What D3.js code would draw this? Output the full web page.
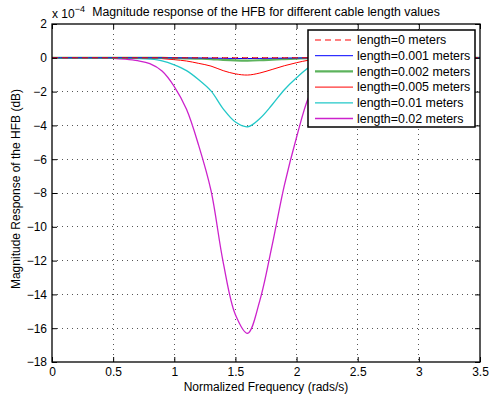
<!DOCTYPE html>
<html><head><meta charset="utf-8">
<script src="https://cdn.jsdelivr.net/npm/d3@7"></script>
<style>body{margin:0;background:#fff}svg{display:block}text{font-family:"Liberation Sans",Arial,sans-serif}</style>
</head><body><svg id="c" width="490" height="399"></svg>
<script>
const freq = [0,0.1,0.2,0.3,0.4,0.5,0.6,0.7,0.8,0.9,1.0,1.1,1.2,1.3,1.4,1.5,1.6,1.7,1.8,1.9,2.0,2.1,2.2,2.3,2.4,2.5,2.6,2.7,2.8,2.9,3.0,3.1,3.2,3.3,3.4,3.5];
const len0    = [0,0,0,0,0,0,0,0,0,0,0,0,0,0,0,0,0,0,0,0,0,0,0,0,0,0,0,0,0,0,0,0,0,0,0,0];
const len001  = [0,0,0,0,0,0,0,0,0,0,-0.004,-0.008,-0.013,-0.02,-0.03,-0.038,-0.041,-0.036,-0.028,-0.019,-0.012,-0.006,-0.003,-0.001,0,0,0,0,0,0,0,0,0,0,0,0];
const len002  = [0,0,0,0,0,0,0,0,-0.003,-0.007,-0.017,-0.03,-0.052,-0.078,-0.121,-0.152,-0.163,-0.144,-0.111,-0.076,-0.047,-0.022,-0.01,-0.005,-0.002,0,0,0,0,0,0,0,0,0,0,0];
const len005  = [0,0,0,0,0,0,-0.004,-0.01,-0.02,-0.05,-0.11,-0.19,-0.33,-0.49,-0.76,-0.95,-1.02,-0.9,-0.69,-0.47,-0.29,-0.14,-0.06,-0.03,-0.01,0,0,0,0,0,0,0,0,0,0,0];
const len01   = [0,0,0,0,0,-0.01,-0.02,-0.04,-0.08,-0.18,-0.42,-0.76,-1.3,-1.96,-3.02,-3.8,-4.08,-3.59,-2.78,-1.89,-1.18,-0.58,-0.27,-0.12,-0.05,-0.02,-0.01,0,0,0,0,0,0,0,0,0];
const len02   = [0,0,0,0,-0.01,-0.03,-0.08,-0.17,-0.34,-0.78,-1.7,-3.05,-5.2,-7.85,-12.1,-15.2,-16.3,-14.35,-11.1,-7.55,-4.7,-2.3,-1.05,-0.5,-0.22,-0.1,-0.04,-0.02,0,0,0,0,0,0,0,0];
const seriesNames = ["length=0 meters","length=0.001 meters","length=0.002 meters","length=0.005 meters","length=0.01 meters","length=0.02 meters"];
const xTicks = [0,0.5,1,1.5,2,2.5,3,3.5];
const yTicks = [2,0,-2,-4,-6,-8,-10,-12,-14,-16,-18];

const series = [
  {name:seriesNames[0], values:len0,   color:"#ff0000", width:1, dash:"6,4"},
  {name:seriesNames[1], values:len001, color:"#0000ff", width:1, dash:null},
  {name:seriesNames[2], values:len002, color:"#5db35d", width:2.2, dash:null},
  {name:seriesNames[3], values:len005, color:"#ff0000", width:1, dash:null},
  {name:seriesNames[4], values:len01,  color:"#22c8c8", width:1.3, dash:null},
  {name:seriesNames[5], values:len02,  color:"#cc22cc", width:1.3, dash:null}
];

const svg = d3.select("#c");
const L = 52, R = 480, T = 24, B = 362;
const x = d3.scaleLinear().domain([0,3.5]).range([L,R]);
const y = d3.scaleLinear().domain([-18,2]).range([B,T]);

// grid
const g = svg.append("g");
xTicks.slice(1,-1).forEach(t=>g.append("line").attr("x1",x(t)).attr("x2",x(t)).attr("y1",T).attr("y2",B)
  .attr("stroke","#555").attr("stroke-width",1).attr("stroke-dasharray","1,4").attr("shape-rendering","crispEdges"));
yTicks.slice(1,-1).forEach(t=>g.append("line").attr("y1",y(t)).attr("y2",y(t)).attr("x1",L).attr("x2",R)
  .attr("stroke","#555").attr("stroke-width",1).attr("stroke-dasharray","1,4").attr("shape-rendering","crispEdges"));

// curves
const line = d3.line().x((d,i)=>x(freq[i])).y(d=>y(d)).curve(d3.curveCatmullRom.alpha(0.5));
svg.append("clipPath").attr("id","pc").append("rect").attr("x",L).attr("y",T).attr("width",R-L).attr("height",B-T);
const cg = svg.append("g").attr("clip-path","url(#pc)");
[5,4,3,2,1,0].forEach(i=>{
  const s = series[i];
  cg.append("path").datum(s.values).attr("d",line).attr("fill","none")
    .attr("stroke",s.color).attr("stroke-width",s.width).attr("stroke-dasharray",s.dash);
});

// axes (ticks inward)
const xb = d3.axisBottom(x).tickValues(xTicks).tickSize(-5).tickPadding(5.5).tickFormat(d3.format(""));
const xt = d3.axisTop(x).tickValues(xTicks).tickSize(-5).tickFormat("");
const yl = d3.axisLeft(y).tickValues(yTicks).tickSize(-5).tickPadding(5).tickFormat(d=>d<0?"\u2212"+Math.abs(d):d);
const yr = d3.axisRight(y).tickValues(yTicks).tickSize(-5).tickFormat("");
[[xb,`translate(0,${B})`],[xt,`translate(0,${T})`],[yl,`translate(${L},0)`],[yr,`translate(${R},0)`]].forEach(([a,tr])=>{
  const gg = svg.append("g").attr("transform",tr).call(a);
  gg.select(".domain").remove();
  gg.selectAll("text").attr("font-size",12).attr("font-family","Liberation Sans, Arial, sans-serif").attr("fill","#000");
  gg.selectAll("line").attr("stroke","#000");
});
svg.append("rect").attr("x",L).attr("y",T).attr("width",R-L).attr("height",B-T)
  .attr("fill","none").attr("stroke","#000").attr("stroke-width",1.3);

// exponent
const ex = svg.append("text").attr("x",L).attr("y",18).attr("font-size",12);
ex.append("tspan").text("x 10");
ex.append("tspan").attr("dy",-6).attr("font-size",9).text("\u22124");

// title & labels
svg.append("text").attr("x",(L+R)/2).attr("y",16).attr("text-anchor","middle").attr("font-size",12.3)
  .text("Magnitude response of the HFB for different cable length values");
svg.append("text").attr("x",(L+R)/2).attr("y",391).attr("text-anchor","middle").attr("font-size",12)
  .text("Normalized Frequency (rads/s)");
svg.append("text").attr("transform",`translate(20,${(T+B)/2 - 4}) rotate(-90)`).attr("text-anchor","middle").attr("font-size",12)
  .text("Magnitude Response of the HFB (dB)");

// legend
const lg = svg.append("g");
lg.append("rect").attr("x",308).attr("y",30).attr("width",167).attr("height",97)
  .attr("fill","#fff").attr("stroke","#000").attr("stroke-width",1.5);
series.forEach((s,i)=>{
  const yy = 40 + i*15.7;
  lg.append("line").attr("x1",315).attr("x2",353).attr("y1",yy).attr("y2",yy)
    .attr("stroke",s.color).attr("stroke-width",s.width).attr("stroke-dasharray",s.dash);
  lg.append("text").attr("x",357).attr("y",yy+4.3).attr("font-size",12.4).text(s.name);
});
</script></body></html>
